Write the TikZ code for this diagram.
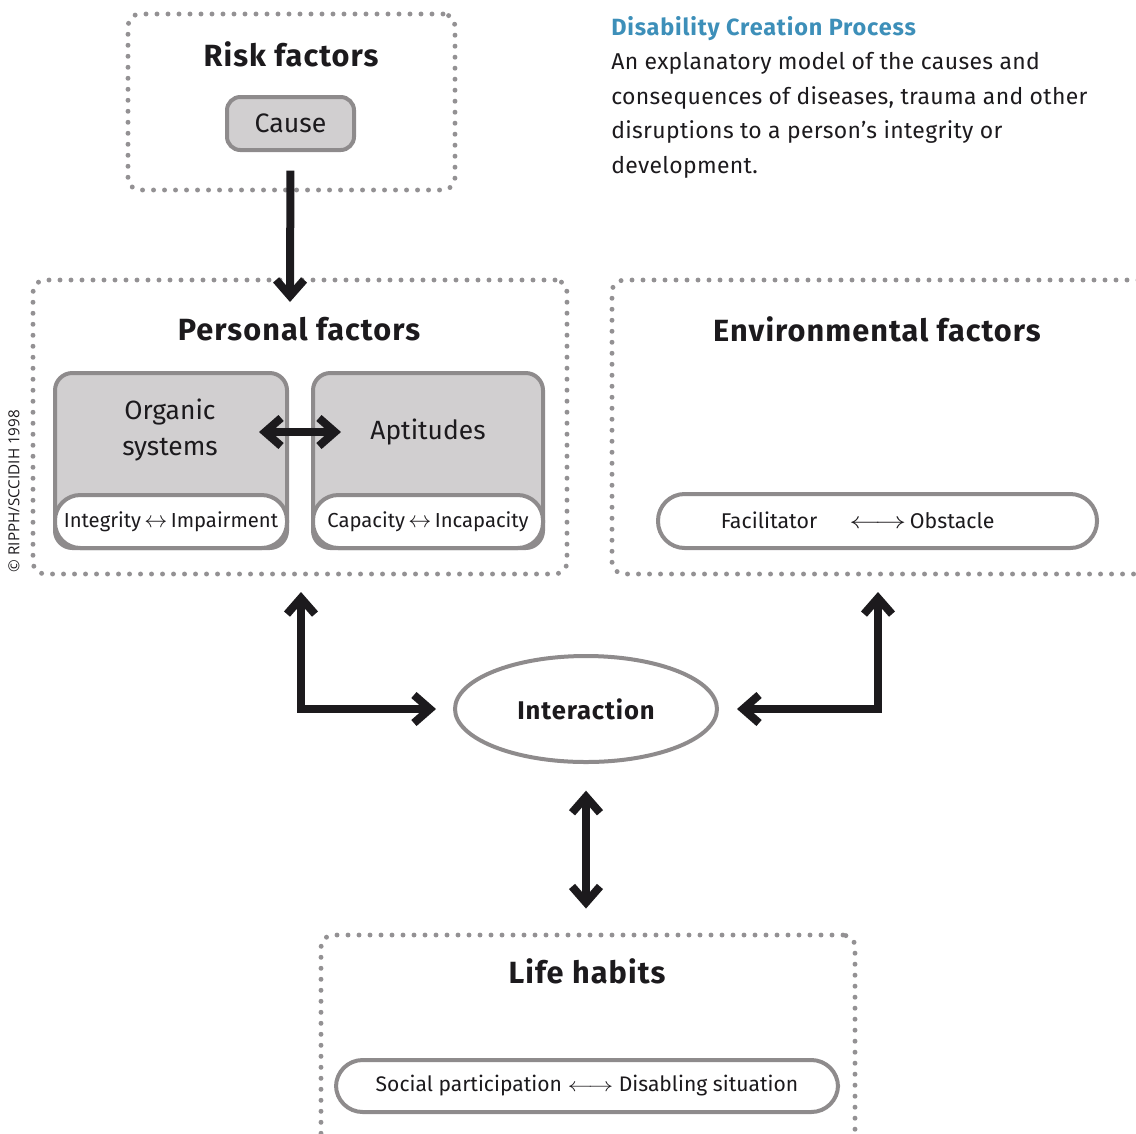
\documentclass[tikz,border=0pt]{standalone}
\usepackage{fontspec}
\setmainfont{Fira Sans}
\newfontfamily\headfont{Fira Sans}[LetterSpace=3.5]
\newfontfamily\bodyfont{Fira Sans}[LetterSpace=1.5]
\newfontfamily\notefont{Open Sans}
\usetikzlibrary{arrows.meta,calc,shapes.geometric}

\definecolor{panelfill}{HTML}{D1CFD0}
\definecolor{panelline}{HTML}{8E8B8C}
\definecolor{dotline}{HTML}{939193}
\definecolor{ink}{HTML}{1C1A1D}
\definecolor{titleblue}{HTML}{3D8FB9}

% two-headed arrows used inside the scale labels
\newcommand\scalearrow[1]{\scalebox{#1}[1]{$\longleftrightarrow$}}
\newcommand\shortarrow{\scalebox{1.2}{$\leftrightarrow$}}

\tikzset{
  x=0.75pt, y=-0.75pt,
  sz/.style 2 args={minimum width={#1*0.75pt}, minimum height={#2*0.75pt}, inner sep=0pt},
  group/.style={draw=dotline, line width=3.7pt, line cap=round,
    dash pattern=on 0pt off 8.25pt, rounded corners=9pt},
  panel/.style={draw=panelline, fill=panelfill, line width=3pt, rounded corners=13pt},
  strip/.style={draw=panelline, fill=white, line width=3pt, rounded corners=19pt},
  pill/.style={draw=panelline, fill=white, line width=3pt, rounded corners=20pt},
  heading/.style={font=\headfont\fontsize{23}{27}\selectfont\bfseries, text=ink, inner sep=0pt},
  label/.style={font=\fontsize{19.8}{23}\selectfont, text=ink, inner sep=0pt, align=center},
  small/.style={font=\fontsize{16}{19}\selectfont, text=ink, inner sep=0pt},
  tight/.style={font=\fontsize{15.2}{18}\selectfont, text=ink, inner sep=0pt},
  link/.style={draw=ink, line width=6pt,
    arrows={Straight Barb[length=12pt, width=21pt, sharp]-Straight Barb[length=12pt, width=21pt, sharp]}},
  onelink/.style={draw=ink, line width=6pt,
    arrows={-Straight Barb[length=12pt, width=21pt, sharp]}},
}

\begin{document}
\begin{tikzpicture}
\useasboundingbox (0,0) rectangle (1136,1133);

% group frames
\node[group, sz={327}{176}] (risk) at (291.5,102) {};
\node[group, sz={534}{294}] (personal) at (300,427) {};
\node[group, sz={538}{294}] (env) at (881,427) {};
\node[group, sz={534}{215}] (life) at (588,1042.5) {};

% headings
\node[heading] (riskT) at (291,54) {Risk factors};
\node[heading] (personalT) at (299,329) {Personal factors};
\node[heading] (envT) at (877,329) {Environmental factors};
\node[heading] (lifeT) at (587,971) {Life habits};

% risk factor
\node[panel, sz={127}{53}, rounded corners=10pt, label, font=\fontsize{20}{23}\selectfont] (cause) at (290.5,123.5) {Cause};

% personal factors panels
\node[panel, sz={232}{175}] (organic) at (171,460.5) {};
\node[strip, sz={232}{53}] (integ) at (171,521.5) {};
\node[label, font=\fontsize{19.8}{27.5}\selectfont] (organicT) at (170,430) {Organic\\systems};
\node[tight] at (integ) {Integrity\,\shortarrow\,Impairment};

\node[panel, sz={230}{175}] (apt) at (428,460.5) {};
\node[strip, sz={230}{53}] (capac) at (428,521.5) {};
\node[label] (aptT) at (428,432) {Aptitudes};
\node[tight] at (capac) {Capacity\,\shortarrow\,Incapacity};

% environmental scale
\node[pill, sz={439}{54}] (facil) at (877.5,521) {};
\node[small, anchor=base] at ([yshift=-5.5pt]facil.center -| 769,0) {Facilitator};
\node[small, anchor=base west] at ([yshift=-5.5pt]facil.center -| 849,0) {\scalearrow{1.35}\,Obstacle};

% life habits scale
\node[pill, sz={502}{52}] (social) at (587,1086) {};
\node[small, font=\fontsize{15.8}{19}\selectfont] at (social) {Social participation \scalearrow{1.3} Disabling situation};

% interaction
\node[ellipse, draw=panelline, line width=3pt, fill=white, sz={262}{106},
      font=\headfont\fontsize{19.2}{23}\selectfont\bfseries, text=ink] (inter) at (586,709) {Interaction};

% connectors
\coordinate (pin) at (290,302);
\coordinate (pl) at (301,592);
\coordinate (pr) at (878,592);
\draw[onelink, shorten <=14pt] (cause.south) -- (pin);
\draw[link] ($(organic.east)+(-30,-28.5)$) -- ($(apt.west)+(30,-28.5)$);
\draw[link, shorten >=12.75pt] (pl) |- (inter.west);
\draw[link, shorten >=13.5pt] (pr) |- (inter.east);
\draw[link, shorten <=20pt, shorten >=18pt] (inter.south) -- (inter.south |- life.north);

% description
\node[anchor=base west, inner sep=0pt, font=\headfont\fontsize{17.6}{21}\selectfont\bfseries, text=titleblue]
  (title) at (611,35) {Disability Creation Process};
\node[anchor=north west, inner sep=0pt, align=left, text=ink,
      font=\bodyfont\fontsize{17.2}{26}\selectfont] (descr) at (611,52)
  {An explanatory model of the causes and\\
   consequences of diseases, trauma and other\\
   disruptions to a person’s integrity or\\
   development.};

% credit
\node[rotate=90, inner sep=0pt, font=\notefont\fontsize{11.4}{14}\selectfont, text=ink]
  (credit) at (14,491) {© RIPPH/SCCIDIH 1998};
\end{tikzpicture}
\end{document}
